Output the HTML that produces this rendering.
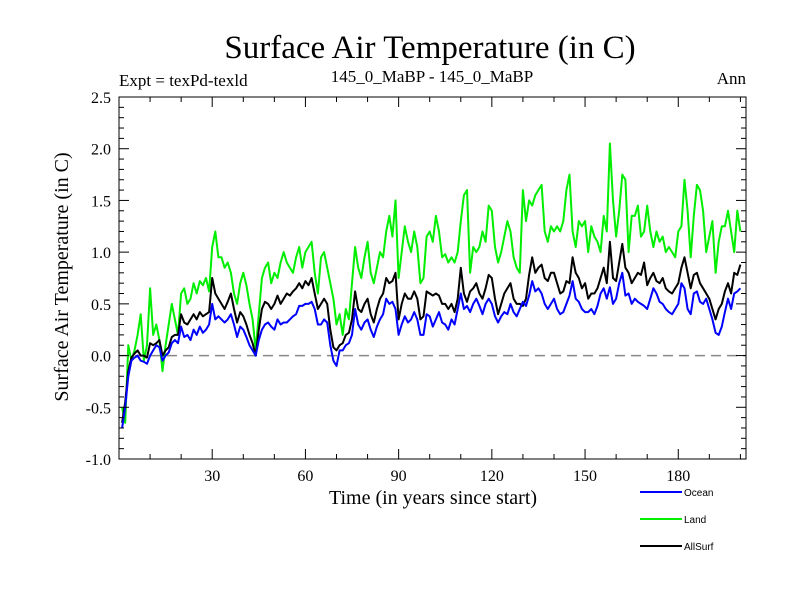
<!DOCTYPE html>
<html><head><meta charset="utf-8"><style>
body{margin:0;background:#fff}
svg{display:block}
text{font-family:"Liberation Serif",serif}
</style></head><body>
<svg id="c" width="800" height="600" xmlns="http://www.w3.org/2000/svg">
<text x="430" y="58" font-size="33" text-anchor="middle">Surface Air Temperature (in C)</text>
<text x="119" y="86" font-size="17">Expt = texPd-texld</text>
<text x="432" y="82" font-size="17" text-anchor="middle">145_0_MaBP - 145_0_MaBP</text>
<text x="746" y="84" font-size="17" text-anchor="end">Ann</text>
<text x="433" y="504" font-size="20" text-anchor="middle">Time (in years since start)</text>
<text transform="translate(68,277) rotate(-90)" font-size="20" text-anchor="middle">Surface Air Temperature (in C)</text>
<g id="plot"></g>
<g id="legend">
<line x1="640" y1="492" x2="682" y2="492" stroke="#0000ff" stroke-width="2"/>
<text x="684" y="496" font-size="10" style="font-family:'Liberation Sans',sans-serif">Ocean</text>
<line x1="640" y1="519" x2="682" y2="519" stroke="#00ee00" stroke-width="2"/>
<text x="684" y="523" font-size="10" style="font-family:'Liberation Sans',sans-serif">Land</text>
<line x1="640" y1="546" x2="682" y2="546" stroke="#000" stroke-width="2"/>
<text x="684" y="550" font-size="10" style="font-family:'Liberation Sans',sans-serif">AllSurf</text>
</g>
</svg>
<script>
const yTicks=[-1.0,-0.5,0.0,0.5,1.0,1.5,2.0,2.5];
const yTickLabels=["-1.0","-0.5","0.0","0.5","1.0","1.5","2.0","2.5"];
const xTicks=[30,60,90,120,150,180];
const xTickLabels=["30","60","90","120","150","180"];
const ocean=[-0.7,-0.5,-0.2,-0.05,-0.02,0.0,-0.05,-0.06,-0.08,0.0,
0.05,0.1,0.08,-0.05,0.0,0.03,0.12,0.15,0.12,0.28,
0.18,0.2,0.15,0.25,0.2,0.28,0.22,0.25,0.3,0.5,
0.35,0.38,0.35,0.32,0.35,0.4,0.3,0.18,0.28,0.25,
0.18,0.1,0.05,0.0,0.15,0.25,0.3,0.32,0.28,0.25,
0.35,0.3,0.32,0.32,0.35,0.38,0.4,0.48,0.48,0.5,
0.5,0.52,0.45,0.3,0.3,0.35,0.32,0.1,-0.05,-0.1,
0.05,0.05,0.1,0.12,0.2,0.45,0.3,0.25,0.32,0.35,
0.25,0.18,0.28,0.35,0.4,0.55,0.5,0.52,0.45,0.2,
0.3,0.38,0.32,0.35,0.42,0.35,0.2,0.2,0.4,0.38,
0.28,0.35,0.42,0.32,0.3,0.25,0.35,0.3,0.45,0.6,
0.45,0.48,0.42,0.5,0.55,0.48,0.4,0.5,0.55,0.5,
0.38,0.32,0.38,0.42,0.4,0.5,0.42,0.38,0.45,0.52,
0.48,0.58,0.72,0.62,0.65,0.6,0.5,0.45,0.5,0.55,
0.45,0.4,0.42,0.5,0.58,0.72,0.55,0.52,0.45,0.42,
0.42,0.45,0.4,0.48,0.6,0.65,0.55,0.66,0.5,0.55,
0.7,0.8,0.58,0.6,0.5,0.55,0.52,0.5,0.48,0.45,
0.55,0.65,0.6,0.52,0.5,0.45,0.42,0.4,0.45,0.5,
0.7,0.65,0.45,0.4,0.6,0.62,0.52,0.5,0.55,0.45,
0.35,0.22,0.2,0.28,0.42,0.55,0.45,0.6,0.62,0.65];
const allSurf=[-0.65,-0.45,-0.15,-0.02,0.02,0.05,0.0,0.0,-0.02,0.12,
0.1,0.12,0.15,0.0,0.05,0.08,0.18,0.2,0.2,0.4,
0.32,0.3,0.35,0.4,0.35,0.42,0.38,0.4,0.42,0.75,
0.6,0.55,0.5,0.45,0.52,0.6,0.45,0.32,0.42,0.38,
0.3,0.2,0.12,0.0,0.25,0.45,0.52,0.5,0.45,0.5,
0.58,0.5,0.55,0.6,0.58,0.62,0.65,0.7,0.65,0.72,
0.68,0.75,0.6,0.45,0.5,0.55,0.5,0.25,0.08,0.05,
0.1,0.12,0.2,0.22,0.35,0.62,0.45,0.42,0.5,0.55,
0.4,0.32,0.45,0.55,0.6,0.75,0.7,0.72,0.8,0.35,
0.5,0.6,0.55,0.55,0.62,0.55,0.35,0.38,0.62,0.6,
0.58,0.6,0.58,0.5,0.5,0.45,0.5,0.42,0.55,0.85,
0.6,0.52,0.62,0.65,0.7,0.6,0.55,0.65,0.78,0.75,
0.55,0.4,0.5,0.6,0.65,0.7,0.55,0.5,0.5,0.48,
0.55,0.78,0.95,0.8,0.85,0.88,0.75,0.72,0.8,0.8,
0.7,0.6,0.62,0.72,0.7,0.95,0.8,0.75,0.65,0.7,
0.55,0.6,0.6,0.65,0.75,0.85,0.7,1.1,0.75,0.72,
0.9,1.08,0.85,0.8,0.7,0.75,0.8,0.78,0.9,0.68,
0.75,0.8,0.72,0.7,0.75,0.65,0.62,0.6,0.65,0.7,
0.85,0.95,0.8,0.65,0.78,0.8,0.7,0.65,0.6,0.55,
0.45,0.35,0.45,0.5,0.62,0.7,0.6,0.8,0.78,0.88];
const land=[-0.5,-0.65,0.1,-0.05,0.05,0.2,0.4,-0.05,0.1,0.65,
0.2,0.3,0.15,-0.15,0.1,0.3,0.5,0.35,0.2,0.6,
0.65,0.5,0.55,0.7,0.6,0.72,0.68,0.75,0.62,1.05,
1.2,0.95,0.95,0.85,0.9,0.8,0.6,0.5,0.7,0.8,
0.68,0.5,0.35,0.05,0.4,0.75,0.85,0.9,0.7,0.8,
0.75,0.9,1.0,0.9,0.85,0.8,0.95,1.05,0.85,1.0,
1.05,1.1,0.8,0.6,0.95,1.0,0.85,0.7,0.55,0.3,
0.4,0.2,0.45,0.35,0.7,1.05,0.85,0.75,0.95,1.1,
0.8,0.7,0.85,1.0,0.95,1.2,1.35,1.15,1.5,0.75,
1.0,1.25,1.1,1.0,1.2,1.05,0.7,0.75,1.15,1.2,
1.1,1.35,1.2,0.95,0.98,0.9,0.95,0.9,1.0,1.3,
1.55,1.6,0.8,1.05,1.0,1.05,1.2,1.1,1.45,1.4,
1.05,0.9,1.0,1.15,1.3,1.2,0.95,0.85,0.8,1.6,
1.3,1.5,1.45,1.55,1.6,1.65,1.2,1.1,1.25,1.2,
1.25,1.2,1.3,1.6,1.75,1.2,1.05,1.3,1.25,1.3,
1.0,1.25,1.15,1.1,1.0,1.35,1.2,2.05,1.5,1.15,
1.4,1.75,1.7,1.0,1.35,1.35,1.45,1.15,1.2,1.45,
1.2,1.05,1.2,1.1,1.15,1.0,1.05,1.0,0.95,1.2,
1.25,1.7,1.4,0.95,1.35,1.65,1.6,1.4,1.0,1.15,
1.3,0.8,1.1,1.25,1.25,1.4,1.2,1.0,1.4,1.2];

const NS="http://www.w3.org/2000/svg";
const L=119,R=746,T=97,B=459,xMin=0,xMax=201.8,yMin=-1,yMax=2.5;
const xs=v=>L+(v-xMin)/(xMax-xMin)*(R-L);
const ys=v=>B-(v-yMin)/(yMax-yMin)*(B-T);
const g=document.getElementById('plot');
function mk(tag,at){const e=document.createElementNS(NS,tag);for(const k in at)e.setAttribute(k,at[k]);g.appendChild(e);return e;}

const zero=mk('line',{x1:L,x2:R,y1:ys(0),y2:ys(0),stroke:'#888','stroke-width':1.5,'stroke-dasharray':'10,6'});



function series(arr,color,name){
  const pts=arr.map((v,i)=>xs(i+1).toFixed(1)+','+ys(v).toFixed(1)).join(' ');
  const p=mk('polyline',{points:pts,fill:'none',stroke:color,'stroke-width':2,'stroke-linejoin':'round'});
  
  
}
series(land,'#00ee00','land-series');
series(allSurf,'#000000','allsurf-series');
series(ocean,'#0000ff','ocean-series');

const frame=mk('rect',{x:L,y:T,width:R-L,height:B-T,fill:'none',stroke:'#000','stroke-width':1});



for(let k=-10;k<=25;k++){
  const v=k/10,y=ys(v),len=(k%5===0)?10:5;
  mk('line',{x1:L,x2:L+len,y1:y,y2:y,stroke:'#000'});
  mk('line',{x1:R,x2:R-len,y1:y,y2:y,stroke:'#000'});
}
yTicks.forEach((v,i)=>{
  const t=mk('text',{x:L-8,y:ys(v)+6,'font-size':16,'text-anchor':'end'});
  t.textContent=yTickLabels[i];
  
  
});
for(let v=10;v<=200;v+=10){
  const x=xs(v),len=(v%30===0)?10:5;
  mk('line',{x1:x,x2:x,y1:B,y2:B-len,stroke:'#000'});
  mk('line',{x1:x,x2:x,y1:T,y2:T+len,stroke:'#000'});
}
xTicks.forEach((v,i)=>{
  const t=mk('text',{x:xs(v),y:B+22,'font-size':16,'text-anchor':'middle'});
  t.textContent=xTickLabels[i];
  
  
});
</script>
</body></html>
